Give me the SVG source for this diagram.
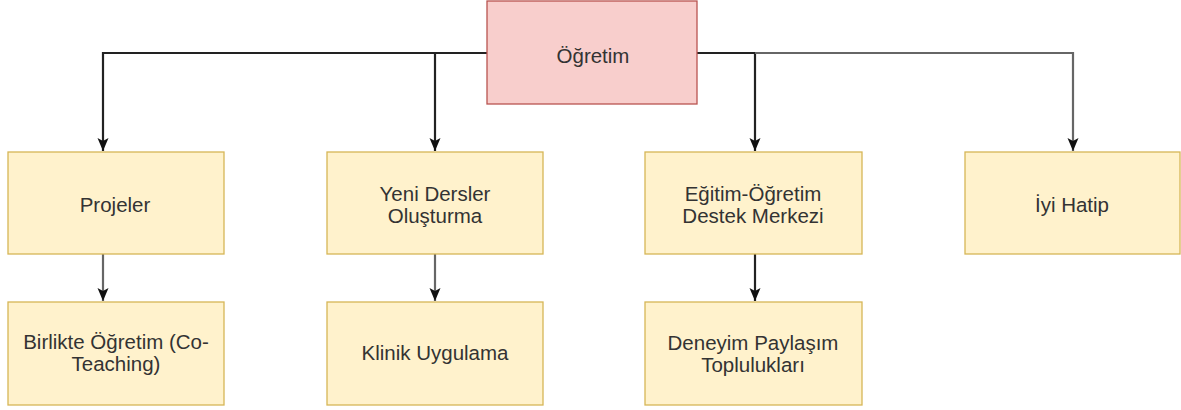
<svg xmlns="http://www.w3.org/2000/svg" width="1181" height="410" viewBox="0 0 1181 410">
  <style>
    .root rect { fill: #f8cecc; stroke: #b85450; stroke-width: 1.3; }
    .item rect { fill: #fff2cc; stroke: #d6b656; stroke-width: 1.3; }
    text { font-family: "Liberation Sans", Arial, sans-serif; font-size: 20.5px; fill: #333333; text-anchor: middle; }
    .edge { fill: none; stroke-width: 2.2; }
    .dark { stroke: #222222; }
    .grey { stroke: #666666; }
  </style>
  <defs>
    <marker id="arrowDark" markerWidth="14" markerHeight="12" refX="13" refY="6" orient="auto" markerUnits="userSpaceOnUse" viewBox="0 0 14 12">
      <path d="M0,0.5 L13,6 L0,11.5 L3,6 Z" fill="#111111"/>
    </marker>
  </defs>
  <rect width="1181" height="410" fill="#ffffff"/>

  <!-- connectors -->
  <g id="connectors">
    <path class="edge dark" d="M487,53 H103 V151" marker-end="url(#arrowDark)"/>
    <path class="edge dark" d="M435,53 V151" marker-end="url(#arrowDark)"/>
    <path class="edge dark" d="M697,53 H755 V151" marker-end="url(#arrowDark)"/>
    <path class="edge grey" d="M755,53 H1073 V151" marker-end="url(#arrowDark)"/>
    <path class="edge grey" d="M103,254 V301" marker-end="url(#arrowDark)"/>
    <path class="edge grey" d="M435,254 V301" marker-end="url(#arrowDark)"/>
    <path class="edge dark" d="M755,254 V301" marker-end="url(#arrowDark)"/>
  </g>

  <g id="ogretim" class="root">
    <rect x="487" y="1" width="210" height="103"/>
    <text x="593" y="63">Öğretim</text>
  </g>

  <g id="projeler" class="item">
    <rect x="8" y="152" width="216" height="102"/>
    <text x="115" y="212">Projeler</text>
  </g>
  <g id="yeni-dersler" class="item">
    <rect x="327" y="152" width="216" height="102"/>
    <text x="435" y="201">Yeni Dersler</text>
    <text x="435" y="223">Oluşturma</text>
  </g>
  <g id="egitim-ogretim" class="item">
    <rect x="645" y="152" width="217" height="102"/>
    <text x="753" y="201">Eğitim-Öğretim</text>
    <text x="753" y="223">Destek Merkezi</text>
  </g>
  <g id="iyi-hatip" class="item">
    <rect x="965" y="152" width="215" height="102"/>
    <text x="1072" y="212">İyi Hatip</text>
  </g>

  <g id="birlikte-ogretim" class="item">
    <rect x="8" y="302" width="216" height="103"/>
    <text x="116" y="349">Birlikte Öğretim (Co-</text>
    <text x="116" y="371">Teaching)</text>
  </g>
  <g id="klinik-uygulama" class="item">
    <rect x="327" y="302" width="216" height="103"/>
    <text x="435" y="360">Klinik Uygulama</text>
  </g>
  <g id="deneyim-paylasim" class="item">
    <rect x="645" y="302" width="217" height="103"/>
    <text x="753" y="350">Deneyim Paylaşım</text>
    <text x="753" y="372">Toplulukları</text>
  </g>
</svg>
